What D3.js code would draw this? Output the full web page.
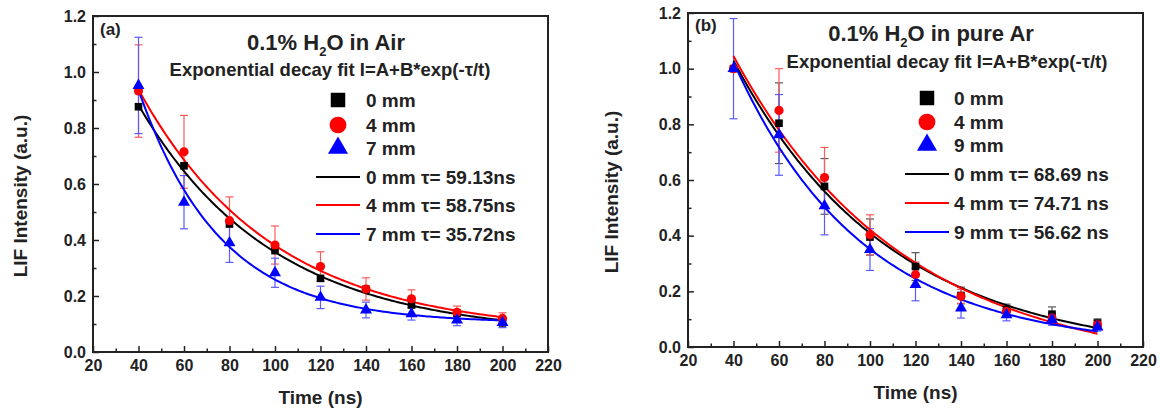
<!DOCTYPE html>
<html>
<head>
<meta charset="utf-8">
<script src="https://cdn.jsdelivr.net/npm/d3@7"></script>
<style>
  html, body { margin: 0; padding: 0; background: #fff; }
  svg { display: block; font-family: "Liberation Sans", Arial, sans-serif; font-weight: bold; }
</style>
</head>
<body>
<svg id="chart" width="1160" height="414"></svg>
<script>
// Delay times (ns)
const times = [40, 60, 80, 100, 120, 140, 160, 180, 200];
const xTicks = [20, 40, 60, 80, 100, 120, 140, 160, 180, 200, 220];
const yTicks = [0.0, 0.2, 0.4, 0.6, 0.8, 1.0, 1.2];

// (a) 0.1% H2O in air: LIF intensity and error
const air0mm = [0.876, 0.665, 0.457, 0.362, 0.263, 0.224, 0.168, 0.138, 0.104];
const air4mm = [0.932, 0.715, 0.469, 0.382, 0.305, 0.225, 0.190, 0.142, 0.120];
const air7mm = [0.952, 0.535, 0.390, 0.283, 0.195, 0.150, 0.136, 0.114, 0.105];
const air0mmErr = [0, 0, 0, 0, 0, 0, 0, 0, 0];
const air4mmErr = [0.165, 0.130, 0.085, 0.068, 0.053, 0.040, 0.032, 0.022, 0.020];
const air7mmErr = [0.172, 0.095, 0.070, 0.052, 0.040, 0.028, 0.022, 0.020, 0.018];
const airTau = [59.13, 58.75, 35.72];
const airLabels = ["0 mm", "4 mm", "7 mm"];

// (b) 0.1% H2O in pure Ar: LIF intensity and error
const ar0mm = [1.000, 0.804, 0.577, 0.395, 0.289, 0.185, 0.134, 0.118, 0.086];
const ar4mm = [1.000, 0.850, 0.609, 0.403, 0.260, 0.182, 0.128, 0.104, 0.080];
const ar9mm = [1.000, 0.762, 0.507, 0.350, 0.224, 0.140, 0.116, 0.098, 0.072];
const ar0mmErr = [0, 0.145, 0.100, 0.065, 0.050, 0.030, 0.020, 0.026, 0.015];
const ar4mmErr = [0, 0.150, 0.108, 0.072, 0.045, 0.025, 0.020, 0.018, 0.015];
const ar9mmErr = [0.180, 0.145, 0.104, 0.075, 0.058, 0.036, 0.022, 0.020, 0.015];
const arTau = [68.69, 74.71, 56.62];
const arLabels = ["0 mm", "4 mm", "9 mm"];

const colors = ["#000000", "#ff0000", "#0000ff"];
const errColors = ["#555555", "#ff5a5a", "#5a5aff"];
const shapes = [d3.symbolSquare, d3.symbolCircle, d3.symbolTriangle];
const markSizes = [58, 66, 62];
const legendSizes = [210, 220, 175];

// Least-squares A, B for I = A + B*exp(-t/tau) at a fixed tau
function fitAB(t, y, tau) {
  const x = t.map(v => Math.exp(-v / tau));
  const mx = d3.mean(x), my = d3.mean(y);
  let sxy = 0, sxx = 0;
  x.forEach((xi, i) => { sxy += (xi - mx) * (y[i] - my); sxx += (xi - mx) * (xi - mx); });
  const B = sxy / sxx;
  return { A: my - B * mx, B };
}

const svg = d3.select("#chart");

function styleTicks(s) {
  s.select(".domain").remove();
  s.selectAll("line").attr("stroke", "#222").attr("stroke-width", 1.5);
  s.selectAll("text").attr("fill", "#222").style("font-size", "16px")
    .style("font-family", "Liberation Sans, Arial, sans-serif").style("font-weight", "bold");
}

function panel(cfg) {
  const x = d3.scaleLinear().domain([20, 220]).range([cfg.left, cfg.right]);
  const y = d3.scaleLinear().domain([0, 1.2]).range([cfg.bottom, cfg.top]);
  const g = svg.append("g");

  // minor ticks
  g.append("g").attr("transform", `translate(0,${cfg.bottom})`)
    .call(d3.axisBottom(x).tickValues(d3.range(30, 220, 20)).tickSize(-3.5).tickFormat(""))
    .call(styleTicks);
  g.append("g").attr("transform", `translate(${cfg.left},0)`)
    .call(d3.axisLeft(y).tickValues(d3.range(0.1, 1.2, 0.2)).tickSize(-3.5).tickFormat(""))
    .call(styleTicks);

  // major ticks + labels
  g.append("g").attr("transform", `translate(0,${cfg.bottom})`)
    .call(d3.axisBottom(x).tickValues(xTicks).tickSize(-6).tickPadding(8).tickFormat(d3.format("d")))
    .call(styleTicks);
  g.append("g").attr("transform", `translate(${cfg.left},0)`)
    .call(d3.axisLeft(y).tickValues(yTicks).tickSize(-6).tickPadding(7).tickFormat(d3.format(".1f")))
    .call(styleTicks);

  // frame
  g.append("rect").attr("x", cfg.left).attr("y", cfg.top)
    .attr("width", cfg.right - cfg.left).attr("height", cfg.bottom - cfg.top)
    .attr("fill", "none").attr("stroke", "#222").attr("stroke-width", 2);

  // axis titles
  g.append("text").attr("x", (cfg.left + cfg.right) / 2).attr("y", cfg.bottom + 52)
    .attr("text-anchor", "middle").attr("fill", "#222").style("font-size", "19px").text("Time (ns)");
  g.append("text").attr("transform", `translate(${cfg.yLabelX},${(cfg.top + cfg.bottom) / 2 + 12}) rotate(-90)`)
    .attr("text-anchor", "middle").attr("fill", "#222").style("font-size", "19px").text("LIF Intensity (a.u.)");

  // panel tag and titles
  g.append("text").attr("x", cfg.left + 7).attr("y", cfg.tagY).attr("fill", "#222")
    .style("font-size", "17px").text(cfg.tag);
  const t = g.append("text").attr("x", cfg.titleX).attr("y", cfg.titleY)
    .attr("text-anchor", "middle").attr("fill", "#222").style("font-size", "22px");
  t.append("tspan").text("0.1% H");
  t.append("tspan").attr("dy", 6).style("font-size", "13px").text("2");
  t.append("tspan").attr("dy", -6).text(cfg.titleRest);
  g.append("text").attr("x", cfg.subX).attr("y", cfg.subY)
    .attr("text-anchor", "middle").attr("fill", "#222").style("font-size", "18.5px")
    .text("Exponential decay fit I=A+B*exp(-\u03c4/t)");

  const clipId = "clip-" + cfg.tag.replace(/\W/g, "");
  svg.append("clipPath").attr("id", clipId).append("rect")
    .attr("x", cfg.left).attr("y", cfg.top).attr("width", cfg.right - cfg.left).attr("height", cfg.bottom - cfg.top);
  const plot = g.append("g").attr("clip-path", `url(#${clipId})`);

  // error bars
  cfg.series.forEach((vals, si) => {
    const err = cfg.errors[si];
    vals.forEach((v, i) => {
      if (!err[i]) return;
      const cx = x(times[i]);
      const eb = plot.append("g").attr("stroke", errColors[si]).attr("stroke-width", 1.2);
      eb.append("line").attr("x1", cx).attr("x2", cx).attr("y1", y(v - err[i])).attr("y2", y(v + err[i]));
      [v - err[i], v + err[i]].forEach(e =>
        eb.append("line").attr("x1", cx - 4).attr("x2", cx + 4).attr("y1", y(e)).attr("y2", y(e)));
    });
  });

  // fitted decay curves
  const line = d3.line().x(d => x(d[0])).y(d => y(d[1]));
  cfg.series.forEach((vals, si) => {
    const { A, B } = fitAB(times, vals, cfg.tau[si]);
    const pts = d3.range(40, 200.5, 1).map(tt => [tt, A + B * Math.exp(-tt / cfg.tau[si])]);
    plot.append("path").datum(pts).attr("d", line).attr("fill", "none")
      .attr("stroke", colors[si]).attr("stroke-width", 2);
  });

  // markers
  cfg.series.forEach((vals, si) => {
    plot.selectAll(null).data(vals).join("path")
      .attr("transform", (d, i) => `translate(${x(times[i])},${y(d)})`)
      .attr("d", d3.symbol().type(shapes[si]).size(markSizes[si]))
      .attr("fill", colors[si]);
  });

  // legend
  cfg.labels.forEach((lab, si) => {
    const ly = cfg.legY[si];
    g.append("path").attr("transform", `translate(${cfg.legSymX},${ly})`)
      .attr("d", d3.symbol().type(shapes[si]).size(legendSizes[si])).attr("fill", colors[si]);
    g.append("text").attr("x", cfg.legTextX).attr("y", ly + 7).attr("fill", "#222")
      .style("font-size", "19px").text(lab);
  });
  cfg.labels.forEach((lab, si) => {
    const ly = cfg.legLineY[si];
    g.append("line").attr("x1", cfg.legLineX0).attr("x2", cfg.legLineX1).attr("y1", ly).attr("y2", ly)
      .attr("stroke", colors[si]).attr("stroke-width", 2);
    g.append("text").attr("x", cfg.legTextX).attr("y", ly + 7).attr("fill", "#222")
      .style("font-size", "19px").text(`${lab} \u03c4= ${d3.format(".2f")(cfg.tau[si])}${cfg.unitSep}ns`);
  });
}

panel({
  tag: "(a)", left: 93, right: 548, top: 16, bottom: 352, yLabelX: 27,
  tagY: 35, titleX: 326, titleY: 50, titleRest: "O in Air", subX: 330, subY: 76,
  series: [air0mm, air4mm, air7mm], errors: [air0mmErr, air4mmErr, air7mmErr],
  tau: airTau, labels: airLabels, unitSep: "",
  legSymX: 338, legTextX: 366, legY: [100, 125, 148],
  legLineX0: 316, legLineX1: 360, legLineY: [177, 205, 234]
});

panel({
  tag: "(b)", left: 688, right: 1143, top: 13, bottom: 347, yLabelX: 618,
  tagY: 31, titleX: 931, titleY: 41, titleRest: "O in pure Ar", subX: 947, subY: 68,
  series: [ar0mm, ar4mm, ar9mm], errors: [ar0mmErr, ar4mmErr, ar9mmErr],
  tau: arTau, labels: arLabels, unitSep: " ",
  legSymX: 927, legTextX: 954, legY: [98, 122, 145],
  legLineX0: 905, legLineX1: 949, legLineY: [174, 203, 232]
});
</script>
</body>
</html>
